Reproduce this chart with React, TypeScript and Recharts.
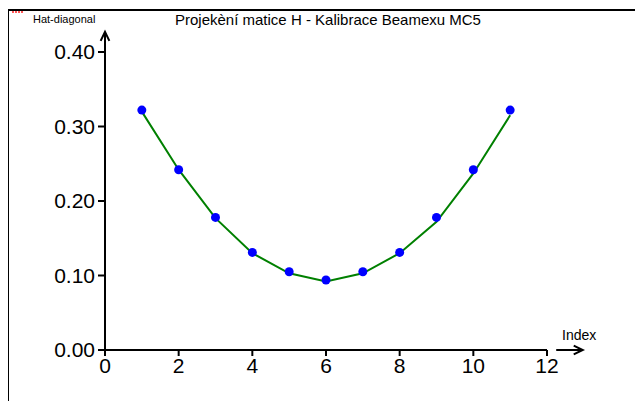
import { ComposedChart, Line, Scatter, XAxis, YAxis, ReferenceLine } from "recharts"

const indexes = [1, 2, 3, 4, 5, 6, 7, 8, 9, 10, 11]
const hatDiagonal = [0.322, 0.242, 0.178, 0.131, 0.105, 0.094, 0.105, 0.131, 0.178, 0.242, 0.322]
const fitted = [0.32, 0.242, 0.177, 0.13, 0.103, 0.092, 0.103, 0.13, 0.172, 0.237, 0.315]
const xTicks = [0, 2, 4, 6, 8, 10, 12]
const yTicks = [0, 0.1, 0.2, 0.3, 0.4]

const data = indexes.map((x, i) => ({ x, point: hatDiagonal[i], fit: fitted[i] }))

const font = "Arial, 'Liberation Sans', sans-serif"

// axis line ending in an open arrow head
const Arrow = (props: any) => {
  const { x1, y1, x2, y2 } = props
  const a = Math.atan2(y2 - y1, x2 - x1)
  const len = 10
  const spread = 0.45
  const hx1 = x2 - len * Math.cos(a - spread)
  const hy1 = y2 - len * Math.sin(a - spread)
  const hx2 = x2 - len * Math.cos(a + spread)
  const hy2 = y2 - len * Math.sin(a + spread)
  return (
    <g stroke="#000" strokeWidth={2} fill="none">
      <line x1={x1} y1={y1} x2={x2} y2={y2} />
      <polyline points={`${hx1},${hy1} ${x2},${y2} ${hx2},${hy2}`} />
    </g>
  )
}

const Dot = (props: any) => {
  const { cx, cy } = props
  return <circle cx={cx} cy={cy} r={4.5} fill="#0000ff" />
}

export default function App() {
  return (
    <div style={{ position: "absolute", left: 0, top: 0, width: 635, height: 401, background: "#fff", fontFamily: font }}>
      <div style={{ position: "absolute", left: 8, top: 9, right: 0, bottom: 0, borderTop: "2px solid #000", borderLeft: "1px solid #000" }} />
      <div
        style={{
          position: "absolute",
          left: 12,
          top: 11,
          width: 12,
          height: 2,
          background: "repeating-linear-gradient(90deg, #f55 0 2px, transparent 2px 3px)",
        }}
      />
      <div style={{ position: "absolute", left: 33, top: 13, fontSize: 11, color: "#000", whiteSpace: "nowrap" }}>Hat-diagonal</div>
      <div style={{ position: "absolute", left: 175, top: 11, fontSize: 15, color: "#000", whiteSpace: "nowrap" }}>
        Projekèní matice H - Kalibrace Beamexu MC5
      </div>
      <div style={{ position: "absolute", left: 562, top: 327, fontSize: 14, color: "#000", whiteSpace: "nowrap" }}>Index</div>
      <ComposedChart
        width={635}
        height={401}
        data={data}
        margin={{ top: 52, right: 88, bottom: 21, left: 45 }}
        style={{ position: "absolute", left: 0, top: 0 }}
      >
        <XAxis
          type="number"
          dataKey="x"
          domain={[0, 12]}
          ticks={xTicks}
          height={30}
          axisLine={{ stroke: "#000", strokeWidth: 2 }}
          tickLine={{ stroke: "#000", strokeWidth: 2 }}
          tickSize={6}
          tick={{ fill: "#000", fontSize: 21, fontFamily: font }}
        />
        <YAxis
          type="number"
          domain={[0, 0.4]}
          ticks={yTicks}
          width={60}
          axisLine={{ stroke: "#000", strokeWidth: 2 }}
          tickLine={{ stroke: "#000", strokeWidth: 2 }}
          tickSize={7}
          tickMargin={3}
          tickFormatter={(v: number) => v.toFixed(2)}
          tick={{ fill: "#000", fontSize: 21, fontFamily: font }}
        />
        <ReferenceLine
          segment={[{ x: 0, y: 0.38 }, { x: 0, y: 0.427 }]}
          ifOverflow="visible"
          shape={Arrow}
        />
        <ReferenceLine
          segment={[{ x: 12.25, y: 0 }, { x: 12.97, y: 0 }]}
          ifOverflow="visible"
          shape={Arrow}
        />
        <Line
          type="linear"
          dataKey="fit"
          stroke="#008000"
          strokeWidth={2}
          dot={false}
          activeDot={false}
          isAnimationActive={false}
        />
        <Scatter dataKey="point" shape={Dot} isAnimationActive={false} />
      </ComposedChart>
    </div>
  )
}
